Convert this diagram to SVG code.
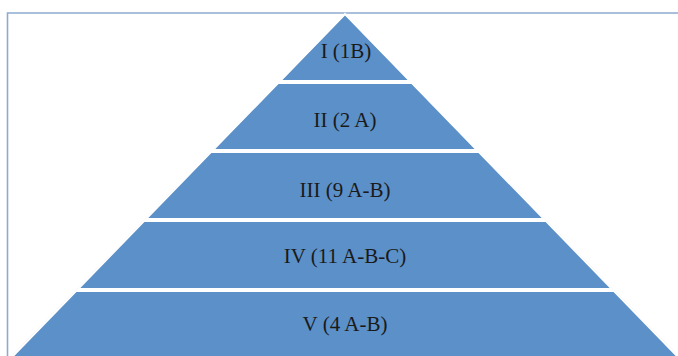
<svg xmlns="http://www.w3.org/2000/svg" width="678" height="356" viewBox="0 0 678 356">
  <style>
    .frame { fill: none; stroke: #8eaad0; stroke-width: 1.6; }
    .layer { fill: #5c90c8; }
    .edge { fill: none; stroke: #ffffff; stroke-width: 2; }
    .shadow { fill: none; stroke: #d8d8d8; stroke-width: 1; }
    .lbl { font-family: "Liberation Serif", "DejaVu Serif", serif; font-size: 21px; fill: #1a1a1a; text-anchor: middle; }
  </style>
  <rect width="678" height="356" fill="#ffffff"/>
  <path class="frame" d="M7.5 370 V13 H690"/>
  <polyline class="shadow" points="10,358 345,14 680,358"/>
  <g id="layer1">
    <polygon class="layer" points="345,15 408.3,80 281.7,80"/>
    <text class="lbl" x="346" y="58">I (1B)</text>
  </g>
  <g id="layer2">
    <polygon class="layer" points="277.8,84 412.2,84 475.5,149 214.5,149"/>
    <text class="lbl" x="345" y="127">II (2 A)</text>
  </g>
  <g id="layer3">
    <polygon class="layer" points="210.6,153 479.4,153 542.7,218 147.3,218"/>
    <text class="lbl" x="345" y="197">III (9 A-B)</text>
  </g>
  <g id="layer4">
    <polygon class="layer" points="143.4,222 546.6,222 610.9,288 79.1,288"/>
    <text class="lbl" x="345" y="263">IV (11 A-B-C)</text>
  </g>
  <g id="layer5">
    <polygon class="layer" points="75.2,292 614.8,292 678,357 12,357"/>
    <text class="lbl" x="345" y="331">V (4 A-B)</text>
  </g>
  <polyline class="edge" points="11,358 345,14 679,358"/>
</svg>
